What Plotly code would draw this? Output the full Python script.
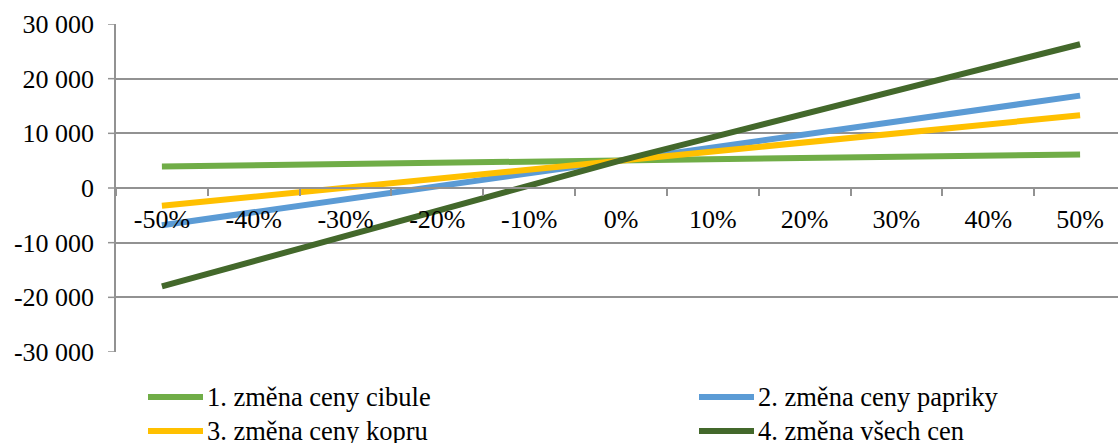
import plotly.graph_objects as go

# Sensitivity of the result to price changes
zmena = ["-50%", "-40%", "-30%", "-20%", "-10%", "0%", "10%", "20%", "30%", "40%", "50%"]

cibule = [3950, 4170, 4390, 4610, 4830, 5050, 5270, 5490, 5710, 5930, 6150]
papriky = [-6800, -4430, -2060, 310, 2680, 5050, 7420, 9790, 12160, 14530, 16900]
kopru = [-3250, -1600, 60, 1710, 3370, 5050, 6680, 8340, 9990, 11650, 13300]
vsech = [-18000, -13400, -8800, -4200, 400, 5050, 9300, 13600, 17900, 22100, 26300]

series_names = [
    "1. změna ceny cibule",
    "2. změna ceny papriky",
    "3. změna ceny kopru",
    "4. změna všech cen",
]
series_values = [cibule, papriky, kopru, vsech]
series_colors = ["#70AD47", "#5B9BD5", "#FFC000", "#43682B"]

y_ticks = [-30000, -20000, -10000, 0, 10000, 20000, 30000]
y_ticktext = ["-30 000", "-20 000", "-10 000", "0", "10 000", "20 000", "30 000"]

FONT = "Liberation Serif"
GRID = "#929292"

W, H = 1118, 443
ML, MR, MT, MB = 116, 0, 24, 91
PW, PH = W - ML - MR, H - MT - MB

fig = go.Figure()

for name, vals, col in zip(series_names, series_values, series_colors):
    fig.add_trace(go.Scatter(
        x=zmena, y=vals, name=name, mode="lines",
        line=dict(color=col, width=6),
        showlegend=False,
    ))


def px_x(px):
    return (px - ML) / PW


def px_y(py):
    return (H - MB - py) / PH


# Short outward stubs of the gridlines left of the value axis
for v in y_ticks:
    fig.add_shape(
        type="line", xref="paper", yref="y", layer="below",
        x0=-8 / PW, x1=0, y0=v, y1=v,
        line=dict(color=GRID, width=1.5),
    )

# Two-column legend below the plot
legend_pos = [(148, 397), (699, 397), (148, 431), (699, 431)]
for name, col, (lx, ly) in zip(series_names, series_colors, legend_pos):
    fig.add_shape(
        type="line", xref="paper", yref="paper",
        x0=px_x(lx), x1=px_x(lx + 55), y0=px_y(ly), y1=px_y(ly),
        line=dict(color=col, width=6),
    )
    fig.add_annotation(
        xref="paper", yref="paper", x=px_x(lx + 57), y=px_y(ly),
        text=name, showarrow=False, xanchor="left", yanchor="middle",
        font=dict(family=FONT, size=26.5, color="#000000"),
    )

fig.update_layout(
    width=W, height=H,
    margin=dict(l=ML, r=MR, t=MT, b=MB, pad=0),
    paper_bgcolor="white", plot_bgcolor="white",
    showlegend=False,
    font=dict(family=FONT, size=26, color="#000000"),
    xaxis=dict(
        type="category",
        range=[-0.5, 10.413],
        anchor="free", position=0.5,
        showline=True, linecolor=GRID, linewidth=1.5,
        ticks="outside", ticklen=7, tickcolor=GRID, tickwidth=1.5,
        tickson="boundaries",
        ticklabelstandoff=8,
        showgrid=False, zeroline=False,
        tickfont=dict(family=FONT, size=26, color="#000000"),
        fixedrange=True,
    ),
    yaxis=dict(
        range=[-30000, 30000],
        tickvals=y_ticks, ticktext=y_ticktext,
        showline=True, linecolor=GRID, linewidth=1.5,
        ticks="",
        showgrid=True, gridcolor=GRID, gridwidth=1.5,
        zeroline=False,
        ticklabelstandoff=15,
        tickfont=dict(family=FONT, size=26, color="#000000"),
        fixedrange=True,
    ),
)

fig.write_html("out.html")
